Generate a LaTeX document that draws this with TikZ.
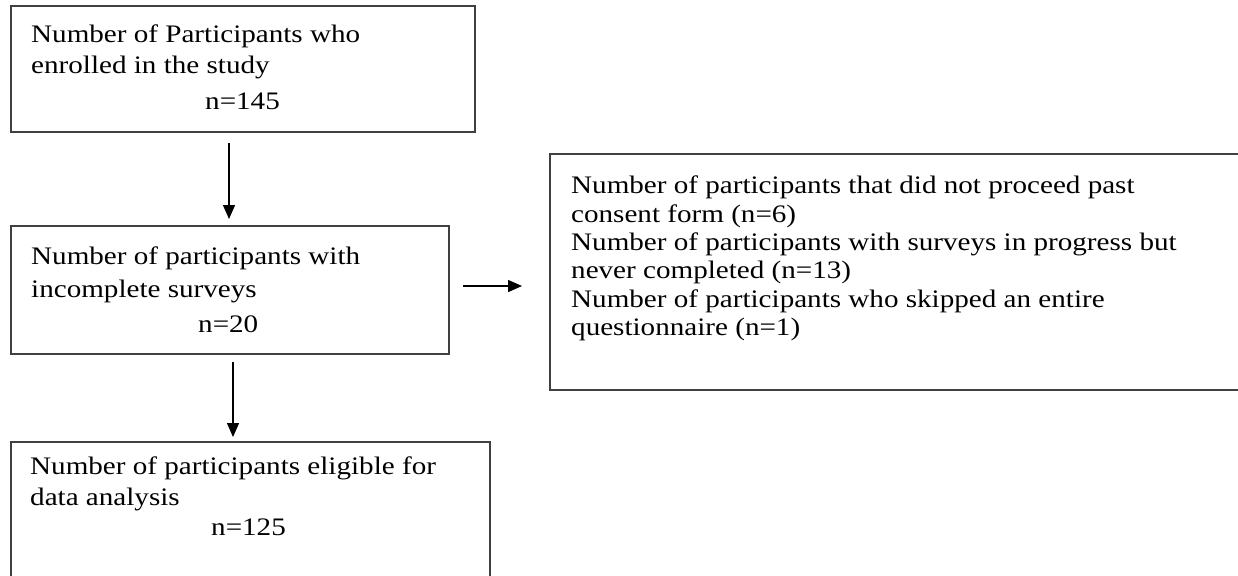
\documentclass[tikz,border=0pt]{standalone}
\usepackage{fontspec}
\setmainfont{Liberation Serif}
\usetikzlibrary{arrows.meta}
\newcommand{\widetxt}[1]{\scalebox{1.155}[1]{#1}}
\begin{document}
\begin{tikzpicture}[x=1pt,y=-1pt,
  box/.style={draw=black!75, line width=1.6pt, inner sep=0pt, outer sep=0pt, anchor=north west},
  txt/.style={anchor=base west, inner sep=0pt, font=\fontsize{25.2}{30}\selectfont},
  conn/.style={line width=1.4pt, -{Triangle[length=14pt,width=12pt]}}]
\useasboundingbox (0,0) rectangle (1238,575);
\clip (0,0) rectangle (1238,575);
% boxes
\node[box, minimum width=464pt, minimum height=126pt] (b1) at (11,6) {};
\node[box, minimum width=438pt, minimum height=128pt] (b2) at (11,226) {};
\node[box, minimum width=800pt, minimum height=236pt] (b3) at (550,154) {};
\node[box, minimum width=479pt, minimum height=200pt] (b4) at (11,442) {};
% texts
\node[txt] (t1a) at (31,43) {\widetxt{Number of Participants who}};
\node[txt] (t1b) at (31,74) {\widetxt{enrolled in the study}};
\node[txt] (t1c) at (205,110) {\widetxt{n=145}};
\node[txt] (t2a) at (31,264) {\widetxt{Number of participants with}};
\node[txt] (t2b) at (31,297) {\widetxt{incomplete surveys}};
\node[txt] (t2c) at (198,332) {\widetxt{n=20}};
\node[txt] (t3a) at (571,193) {\widetxt{Number of participants that did not proceed past}};
\node[txt] (t3b) at (571,222) {\widetxt{consent form (n=6)}};
\node[txt] (t3c) at (571,250) {\widetxt{Number of participants with surveys in progress but}};
\node[txt] (t3d) at (571,278) {\widetxt{never completed (n=13)}};
\node[txt] (t3e) at (571,307) {\widetxt{Number of participants who skipped an entire}};
\node[txt] (t3f) at (571,335) {\widetxt{questionnaire (n=1)}};
\node[txt] (t4a) at (30,474) {\widetxt{Number of participants eligible for}};
\node[txt] (t4b) at (30,505) {\widetxt{data analysis}};
\node[txt] (t4c) at (211,535) {\widetxt{n=125}};
% connectors
\coordinate (a1s) at (229,143);
\coordinate (a1e) at (229,219);
\coordinate (a2s) at (233,362);
\coordinate (a2e) at (233,437);
\coordinate (a3s) at (463,286);
\coordinate (a3e) at (522,286);
\draw[conn] (a1s) -- (a1e);
\draw[conn] (a2s) -- (a2e);
\draw[conn] (a3s) -- (a3e);
\end{tikzpicture}
\end{document}
